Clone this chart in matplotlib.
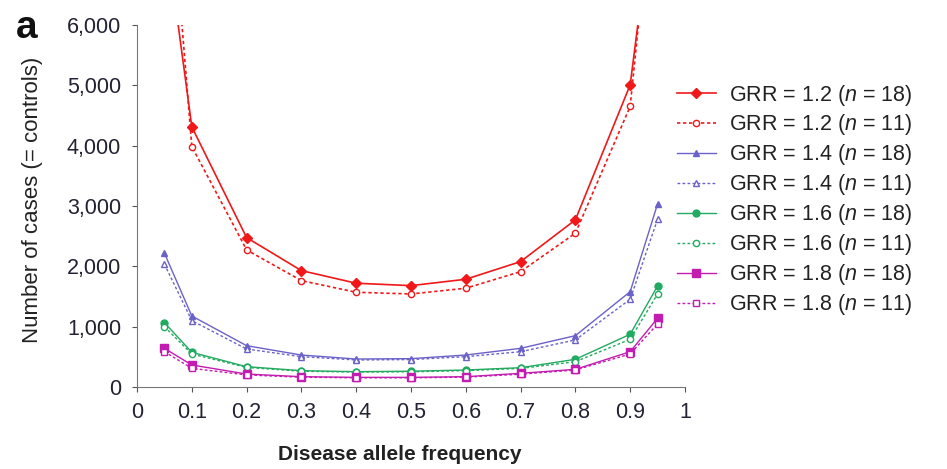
import matplotlib
matplotlib.use('Agg')
import matplotlib.pyplot as plt
from matplotlib.ticker import FuncFormatter

plt.rcParams['font.family'] = ['Liberation Sans', 'DejaVu Sans']
plt.rcParams['mathtext.fontset'] = 'custom'
plt.rcParams['mathtext.it'] = 'Liberation Sans:italic'
plt.rcParams['mathtext.rm'] = 'Liberation Sans'

# disease allele frequencies
freq = [0.05, 0.1, 0.2, 0.3, 0.4, 0.5, 0.6, 0.7, 0.8, 0.9, 0.95]

# number of cases, n = 18 and n = 11 markers
grr12_18 = [7700, 4310, 2476, 1929, 1720, 1680, 1786, 2078, 2770, 5008, 8570]
grr12_11 = [9600, 3985, 2272, 1763, 1570, 1542, 1637, 1912, 2549, 4650, 9150]
grr14_18 = [2217, 1177, 685, 530, 464, 470, 530, 641, 851, 1580, 3035]
grr14_11 = [2035, 1100, 630, 503, 448, 455, 503, 585, 780, 1454, 2780]
grr16_18 = [1067, 575, 337, 271, 254, 262, 282, 320, 459, 874, 1675]
grr16_11 = [1000, 547, 325, 262, 248, 252, 272, 308, 420, 790, 1542]
grr18_18 = [641, 365, 215, 171, 160, 160, 171, 227, 293, 585, 1139]
grr18_11 = [585, 310, 200, 163, 153, 153, 163, 213, 282, 547, 1045]

labels = [r'GRR = 1.2 ($n$ = 18)', r'GRR = 1.2 ($n$ = 11)',
          r'GRR = 1.4 ($n$ = 18)', r'GRR = 1.4 ($n$ = 11)',
          r'GRR = 1.6 ($n$ = 18)', r'GRR = 1.6 ($n$ = 11)',
          r'GRR = 1.8 ($n$ = 18)', r'GRR = 1.8 ($n$ = 11)']

fig = plt.figure(figsize=(9.47, 4.69), dpi=100)
ax = fig.add_axes([0.1447, 0.1748, 0.5786, 0.772])

red = '#f01818'
blue = '#6a62c8'
green = '#22aa60'
mag = '#c21cb0'
dots = (0, (2, 1.6))

ax.plot(freq, grr12_18, color=red, lw=1.2, marker='D', ms=5, label=labels[0])
ax.plot(freq, grr12_11, color=red, lw=1.2, ls=dots, marker='o', ms=4.5,
        mfc='white', mew=1, label=labels[1])
ax.plot(freq, grr14_18, color=blue, lw=1.0, marker='^', ms=5, label=labels[2])
ax.plot(freq, grr14_11, color=blue, lw=1.0, ls=dots, marker='^', ms=5,
        mfc='white', mew=1, label=labels[3])
ax.plot(freq, grr16_18, color=green, lw=1.0, marker='o', ms=5, label=labels[4])
ax.plot(freq, grr16_11, color=green, lw=1.0, ls=dots, marker='o', ms=4.5,
        mfc='white', mew=1, label=labels[5])
ax.plot(freq, grr18_18, color=mag, lw=1.0, marker='s', ms=5.5, label=labels[6])
ax.plot(freq, grr18_11, color=mag, lw=1.0, ls=dots, marker='s', ms=4.5,
        mfc='white', mew=1, label=labels[7])

ax.set_xlim(0, 1)
ax.set_ylim(0, 6000)
ax.set_xticks([i / 10 for i in range(11)])
ax.xaxis.set_major_formatter(FuncFormatter(lambda v, p: '%g' % v))
ax.set_yticks(range(0, 6001, 1000))
ax.yaxis.set_major_formatter(FuncFormatter(lambda v, p: '{:,}'.format(int(v))))

for s in ['top', 'right']:
    ax.spines[s].set_visible(False)
for s in ['left', 'bottom']:
    ax.spines[s].set_color('#777777')
ax.tick_params(direction='out', length=3.5, color='#555555', labelsize=15.5,
               labelcolor='#222233')
ax.tick_params(axis='y', pad=8)
ax.tick_params(axis='x', pad=7)

ax.set_xlabel('Disease allele frequency', fontsize=15, fontweight='bold',
              color='#222222', labelpad=16)
ax.xaxis.label.set_x(0.48)
ax.set_ylabel('Number of cases (= controls)', fontsize=16, color='#222222',
              labelpad=17)
ax.yaxis.label.set_y(0.517)

fig.text(0.017, 0.92, 'a', fontsize=28, fontweight='bold', color='#111111')

ax.legend(loc='upper left', bbox_to_anchor=(0.715, 0.824),
          bbox_transform=fig.transFigure, frameon=False, fontsize=15.5,
          handlelength=1.8, labelspacing=0.23, handletextpad=0.6,
          borderpad=0, borderaxespad=0, labelcolor='#222222')

fig.savefig('out.png', dpi=100)
